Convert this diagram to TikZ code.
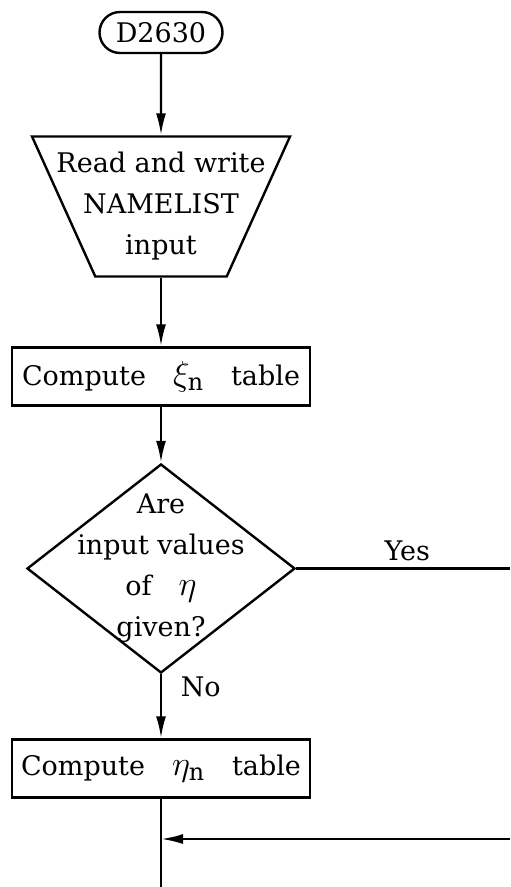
\documentclass[tikz,border=0pt]{standalone}
\usepackage{fontspec}
\setmainfont{DejaVu Serif}
\usetikzlibrary{arrows.meta}
\usetikzlibrary{shapes.geometric, shapes.misc}

\begin{document}
\begin{tikzpicture}[x=0.5pt, y=-0.5pt, line width=1.2pt, >={Latex[length=11pt,width=5pt]},
 font=\fontsize{13.5}{20.5}\selectfont,
 term/.style = {draw, rounded rectangle, minimum width=61.5pt, minimum height=20.5pt, inner sep=0pt},
 io/.style = {draw, trapezium, shape border rotate=180, trapezium angle=64.3, trapezium stretches=true, minimum width=129pt, minimum height=70pt, inner sep=1pt},
 box/.style = {draw, rectangle, minimum width=149pt, minimum height=29pt, inner sep=0pt},
 test/.style = {draw, diamond, minimum width=134pt, minimum height=104.5pt, inner sep=0pt}]
\useasboundingbox (0,0) rectangle (510,887);
\node[term] (1) at (161,32.5) {D2630};
\node[io] (2) [node distance=87pt, below of=1] {};
\node[align=center] (2t) at (2) {Read and write\\NAMELIST\\input};
\node[box] (3) [node distance=85pt, below of=2] {Compute\quad{\fontsize{17}{20}\selectfont$\xi_{\mathrm{n}}$}\quad table};
\node[test] (4) [node distance=96pt, below of=3] {};
\node[align=center] (4t) at (4) {Are\\input values\\of\quad{\fontsize{17}{20}\selectfont$\eta$}\\given?};
\node[box] (5) [node distance=100pt, below of=4] {Compute\quad{\fontsize{17}{20}\selectfont$\eta_{\mathrm{n}}$}\quad table};
\coordinate (yes) at (4.east -| 510,0);
\coordinate (back) at (510,839);
\coordinate (join) at (back -| 5.south);
\coordinate (end) at (5.south |- 0,887);
\draw[->] (1) -- (2);
\draw[->] (2) -- (3);
\draw[->] (3) -- (4);
\draw (4) -- node[above, pos=0.52] {Yes} (yes);
\draw[->] (4) -- node[right=6pt, pos=0.2] {No} (5);
\draw (5) -- (end);
\draw[->] (back) -- (join);
\end{tikzpicture}
\end{document}
